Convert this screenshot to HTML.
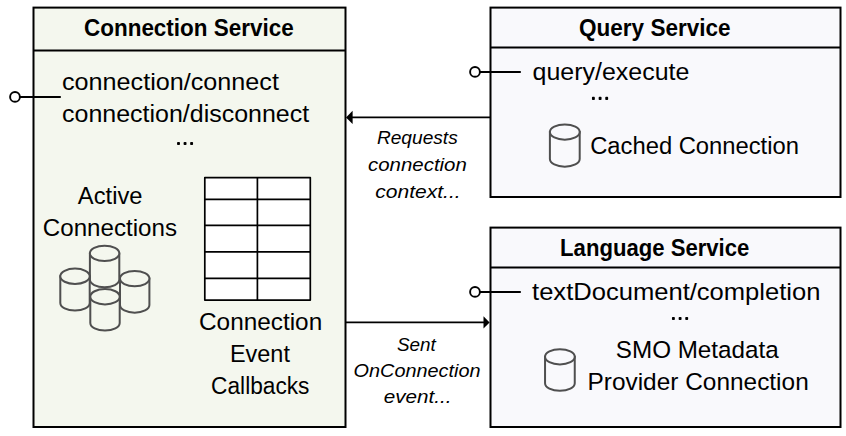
<!DOCTYPE html>
<html><head><meta charset="utf-8"><style>
html,body{margin:0;padding:0;background:#fff;width:846px;height:436px;overflow:hidden;font-family:"Liberation Sans",sans-serif;}
svg{display:block}
</style></head><body>
<svg width="846" height="436" viewBox="0 0 846 436">
<rect width="846" height="436" fill="#fff"/>
<!-- boxes -->
<g stroke="#000" stroke-width="2">
<rect x="33.5" y="7.6" width="312" height="419.4" fill="#f4f7ee"/>
<line x1="33.5" y1="50.5" x2="345.5" y2="50.5"/>
<rect x="490.5" y="7.6" width="350" height="189.4" fill="#f9f9fc"/>
<line x1="490.5" y1="47.6" x2="840.5" y2="47.6"/>
<rect x="490.5" y="227.6" width="350" height="199.4" fill="#f9f9fc"/>
<line x1="490.5" y1="267.5" x2="840.5" y2="267.5"/>
</g>
<!-- table -->
<g stroke="#000" stroke-width="1.7" fill="none" stroke-linejoin="round">
<rect x="204.8" y="177.6" width="105.5" height="122.5" fill="#fff"/>
<line x1="257.4" y1="177.6" x2="257.4" y2="300.1"/>
<line x1="204.8" y1="199.4" x2="310.3" y2="199.4"/>
<line x1="204.8" y1="225.4" x2="310.3" y2="225.4"/>
<line x1="204.8" y1="251.8" x2="310.3" y2="251.8"/>
<line x1="204.8" y1="278.3" x2="310.3" y2="278.3"/>
</g>
<!-- lollipops -->
<g stroke="#000" stroke-width="1.9" fill="#fff">
<line x1="19.5" y1="97" x2="60.8" y2="97"/>
<circle cx="15" cy="96.9" r="4.9"/>
<line x1="479.5" y1="72" x2="520.8" y2="72"/>
<circle cx="475" cy="71.9" r="4.9"/>
<line x1="479.5" y1="292" x2="520.8" y2="292"/>
<circle cx="475" cy="291.9" r="4.9"/>
</g>
<!-- arrows -->
<g stroke="#000" stroke-width="1.8">
<line x1="350" y1="117.4" x2="490" y2="117.4"/>
<line x1="346" y1="322.4" x2="486" y2="322.4"/>
</g>
<path d="M346,117.4 L352.6,110.7 L352.6,124.1 Z" fill="#000"/>
<path d="M489.6,322.4 L483.5,316.2 L483.5,328.6 Z" fill="#000"/>
<!-- cylinders -->
<g stroke="#4f4f4f" stroke-width="2" fill="#f4f7ee">
<path d="M89.90,253.4 L89.90,279.6 A14.7,7.7 0 0 0 119.30,279.6 L119.30,253.4 Z"/><ellipse cx="104.6" cy="253.4" rx="14.7" ry="7.7"/>
<path d="M60.30,276.3 L60.30,302.9 A14.7,7.7 0 0 0 89.70,302.9 L89.70,276.3 Z"/><ellipse cx="75" cy="276.3" rx="14.7" ry="7.7"/>
<path d="M120.00,278.6 L120.00,305 A14.7,7.7 0 0 0 149.40,305 L149.40,278.6 Z"/><ellipse cx="134.7" cy="278.6" rx="14.7" ry="7.7"/>
<path d="M90.30,296.7 L90.30,322.9 A14.7,7.7 0 0 0 119.70,322.9 L119.70,296.7 Z"/><ellipse cx="105" cy="296.7" rx="14.7" ry="7.7"/>
</g>
<g stroke="#4f4f4f" stroke-width="2" fill="#f9f9fc">
<path d="M549.90,132.1 L549.90,159.1 A14.9,7.6 0 0 0 579.70,159.1 L579.70,132.1 Z"/><ellipse cx="564.8" cy="132.1" rx="14.9" ry="7.6"/>
<path d="M545.05,356.8 L545.05,383.2 A14.85,7.6 0 0 0 574.75,383.2 L574.75,356.8 Z"/><ellipse cx="559.9" cy="356.8" rx="14.85" ry="7.6"/>
</g>
<!-- dots -->
<g fill="#000">
<rect x="177.05" y="141.90" width="2.9" height="3.2" rx="0.8"/><rect x="183.60" y="141.90" width="2.9" height="3.2" rx="0.8"/><rect x="190.15" y="141.90" width="2.9" height="3.2" rx="0.8"/>
<rect x="591.95" y="96.85" width="2.9" height="3.2" rx="0.8"/><rect x="598.65" y="96.85" width="2.9" height="3.2" rx="0.8"/><rect x="605.25" y="96.85" width="2.9" height="3.2" rx="0.8"/>
<rect x="671.95" y="316.90" width="2.9" height="3.2" rx="0.8"/><rect x="678.65" y="316.90" width="2.9" height="3.2" rx="0.8"/><rect x="685.25" y="316.90" width="2.9" height="3.2" rx="0.8"/>
</g>
<g font-family="Liberation Sans" fill="#000">
<text font-size="24.5" font-weight="bold" transform="translate(84.00 35.8) scale(0.9170 1)">Connection Service</text>
<text font-size="24.5" transform="translate(62.00 89.8) scale(1.0283 1)">connection/connect</text>
<text font-size="24.5" transform="translate(62.00 121.5) scale(1.0198 1)">connection/disconnect</text>
<text font-size="24.5" transform="translate(77.87 204.1) scale(0.9691 1)">Active</text>
<text font-size="24.5" transform="translate(42.80 236.0) scale(0.9853 1)">Connections</text>
<text font-size="24.5" transform="translate(199.00 329.8) scale(0.9943 1)">Connection</text>
<text font-size="24.5" transform="translate(229.94 361.7) scale(0.9581 1)">Event</text>
<text font-size="24.5" transform="translate(211.10 393.8) scale(0.9264 1)">Callbacks</text>
<text font-size="24.5" font-weight="bold" transform="translate(579.00 35.8) scale(0.9200 1)">Query Service</text>
<text font-size="24.5" transform="translate(532.60 79.6) scale(1.0188 1)">query/execute</text>
<text font-size="24.5" transform="translate(590.20 153.6) scale(0.9707 1)">Cached Connection</text>
<text font-size="24.5" font-weight="bold" transform="translate(560.10 256.1) scale(0.9029 1)">Language Service</text>
<text font-size="24.5" transform="translate(532.04 300) scale(1.0437 1)">textDocument/completion</text>
<text font-size="24.5" transform="translate(615.80 358.4) scale(0.9886 1)">SMO Metadata</text>
<text font-size="24.5" transform="translate(587.50 390.1) scale(0.9968 1)">Provider Connection</text>
<text font-size="18.4" font-style="italic" transform="translate(376.90 143.8) scale(1.0410 1)">Requests</text>
<text font-size="18.4" font-style="italic" transform="translate(368.01 170.9) scale(1.1111 1)">connection</text>
<text font-size="18.4" font-style="italic" transform="translate(375.34 197.7) scale(1.1432 1)">context...</text>
<text font-size="18.4" font-style="italic" transform="translate(397.00 350.7) scale(1.0250 1)">Sent</text>
<text font-size="18.4" font-style="italic" transform="translate(353.60 376.8) scale(1.0797 1)">OnConnection</text>
<text font-size="18.4" font-style="italic" transform="translate(383.70 403.0) scale(1.1237 1)">event...</text>
</g>
</svg>
</body></html>
